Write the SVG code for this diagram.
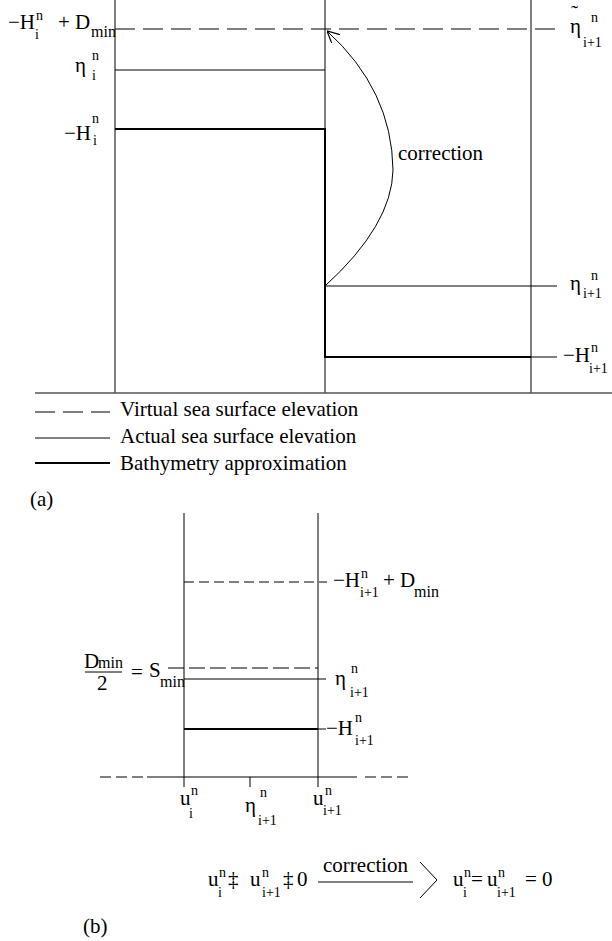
<svg xmlns="http://www.w3.org/2000/svg" width="612" height="941" viewBox="0 0 612 941">
<style>
text{font-family:"Liberation Serif","DejaVu Serif",serif;fill:#000}
.m{font-size:21px}
.s{font-size:14px}
.mn{font-size:16px}
.ln{stroke:#000;stroke-width:1;fill:none}
.th{stroke:#000;stroke-width:2;fill:none}
.gr{stroke:#555;stroke-width:1.5;fill:none}
.da{stroke:#000;stroke-width:1;stroke-dasharray:20 8;fill:none}
.db{stroke:#000;stroke-width:1;stroke-dasharray:10 5;fill:none}
.dc{stroke:#000;stroke-width:1;stroke-dasharray:16 5;fill:none}
.dd{stroke:#000;stroke-width:1;stroke-dasharray:11 5;fill:none}
</style>
<defs>
<marker id="openarrow" markerWidth="12" markerHeight="12" refX="10" refY="5" orient="auto" markerUnits="userSpaceOnUse" viewBox="0 0 10 10">
<path d="M0,0 L10,5 L0,10" fill="none" stroke="#000" stroke-width="1"/>
</marker>
</defs>
<rect width="612" height="941" fill="#fff"/>

<g id="panel-a-grid">
<line class="ln" x1="115" y1="0" x2="115" y2="393"/>
<line class="ln" x1="325" y1="0" x2="325" y2="393"/>
<line class="gr" x1="531" y1="0" x2="531" y2="393"/>
<line class="gr" x1="35" y1="393" x2="612" y2="393"/>
</g>

<g id="virtual-surface-a">
<line class="da" x1="115" y1="29" x2="557" y2="29"/>
<text class="m" x="8" y="29">−H</text>
<text class="s" x="36" y="20">n</text>
<text class="s" x="35" y="39">i</text>
<text class="m" x="58" y="29">+ D</text>
<text class="mn" x="91" y="37">min</text>
<text class="m" x="571" y="20">˜</text>
<text class="m" x="570" y="33">η</text>
<text class="s" x="591" y="22">n</text>
<text class="s" x="583" y="47">i+1</text>
</g>

<g id="eta-i">
<line class="ln" x1="115" y1="70" x2="325" y2="70"/>
<text class="m" x="75" y="72">η</text>
<text class="s" x="92" y="60">n</text>
<text class="s" x="92" y="80">i</text>
</g>

<g id="bathymetry-a">
<polyline class="th" points="115,129 325,129 325,357 531,357"/>
<line class="ln" x1="531" y1="357" x2="557" y2="357"/>
<text class="m" x="64" y="140">−H</text>
<text class="s" x="92" y="123">n</text>
<text class="s" x="93" y="145">i</text>
<text class="m" x="563" y="362">−H</text>
<text class="s" x="591" y="352">n</text>
<text class="s" x="589" y="373">i+1</text>
</g>

<g id="eta-i1">
<line class="ln" x1="325" y1="286" x2="557" y2="286"/>
<text class="m" x="570" y="290">η</text>
<text class="s" x="591" y="280">n</text>
<text class="s" x="583" y="298">i+1</text>
</g>

<g id="connectors">
<path class="ln" d="M325,286 Q392,225 393,170 Q392,90 327,31" marker-end="url(#openarrow)"/>
</g>
<g id="correction-label">
<text class="m" x="398" y="160">correction</text>
</g>

<g id="legend">
<line class="da" x1="35" y1="412" x2="110" y2="412"/>
<text class="m" x="120" y="416">Virtual sea surface elevation</text>
<line class="gr" x1="35" y1="438" x2="110" y2="438"/>
<text class="m" x="120" y="443">Actual sea surface elevation</text>
<line class="th" x1="35" y1="463" x2="110" y2="463"/>
<text class="m" x="120" y="470">Bathymetry approximation</text>
<text class="m" x="30" y="506">(a)</text>
</g>

<g id="panel-b-grid">
<line class="ln" x1="184" y1="513" x2="184" y2="787"/>
<line class="ln" x1="318" y1="513" x2="318" y2="787"/>
<line class="ln" x1="250" y1="777" x2="250" y2="787"/>
<line class="dd" x1="100" y1="777" x2="143" y2="777"/>
<line class="ln" x1="147" y1="777" x2="357" y2="777"/>
<line class="dd" x1="365" y1="777" x2="408" y2="777"/>
</g>

<g id="virtual-surface-b">
<line class="db" x1="184" y1="582" x2="327" y2="582"/>
<text class="m" x="333" y="587">−H</text>
<text class="s" x="361" y="578">n</text>
<text class="s" x="360" y="597">i+1</text>
<text class="m" x="383" y="587">+ D</text>
<text class="mn" x="414" y="597">min</text>
</g>

<g id="smin">
<line class="dc" x1="168" y1="668" x2="318" y2="668"/>
<text class="m" x="84" y="668">D</text>
<text class="mn" x="98" y="668">min</text>
<line class="ln" x1="85" y1="672" x2="122" y2="672"/>
<text class="m" x="97" y="690">2</text>
<text class="m" x="131" y="679">=</text>
<text class="m" x="149" y="677">S</text>
<text class="mn" x="160" y="687">min</text>
</g>

<g id="eta-b">
<line class="ln" x1="184" y1="679" x2="326" y2="679"/>
<text class="m" x="335" y="685">η</text>
<text class="s" x="351" y="673">n</text>
<text class="s" x="350" y="697">i+1</text>
</g>

<g id="bathymetry-b">
<line class="th" x1="184" y1="729" x2="318" y2="729"/>
<line class="ln" x1="318" y1="729" x2="326" y2="729"/>
<text class="m" x="326" y="735">−H</text>
<text class="s" x="355" y="722">n</text>
<text class="s" x="355" y="745">i+1</text>
</g>

<g id="axis-labels">
<text class="m" x="180" y="805">u</text>
<text class="s" x="191" y="795">n</text>
<text class="s" x="189" y="818">i</text>
<text class="m" x="245" y="812">η</text>
<text class="s" x="260" y="797">n</text>
<text class="s" x="258" y="825">i+1</text>
<text class="m" x="313" y="805">u</text>
<text class="s" x="325" y="795">n</text>
<text class="s" x="323" y="815">i+1</text>
</g>

<g id="formula">
<text class="m" x="208" y="886">u</text>
<text class="s" x="219" y="877">n</text>
<text class="s" x="218" y="897">i</text>
<text class="m" x="228" y="886">‡</text>
<text class="m" x="250" y="886">u</text>
<text class="s" x="262" y="877">n</text>
<text class="s" x="262" y="897">i+1</text>
<text class="m" x="283" y="886">‡</text>
<text class="m" x="297" y="886">0</text>
<text class="m" x="323" y="872">correction</text>
<line class="ln" x1="318" y1="882" x2="413" y2="882"/>
<polyline class="ln" points="420,862 437,880 420,898"/>
<text class="m" x="453" y="886">u</text>
<text class="s" x="464" y="877">n</text>
<text class="s" x="463" y="897">i</text>
<text class="m" x="471" y="886">=</text>
<text class="m" x="487" y="886">u</text>
<text class="s" x="498" y="877">n</text>
<text class="s" x="497" y="897">i+1</text>
<text class="m" x="525" y="886">=</text>
<text class="m" x="542" y="886">0</text>
<text class="m" x="83" y="933">(b)</text>
</g>
</svg>
